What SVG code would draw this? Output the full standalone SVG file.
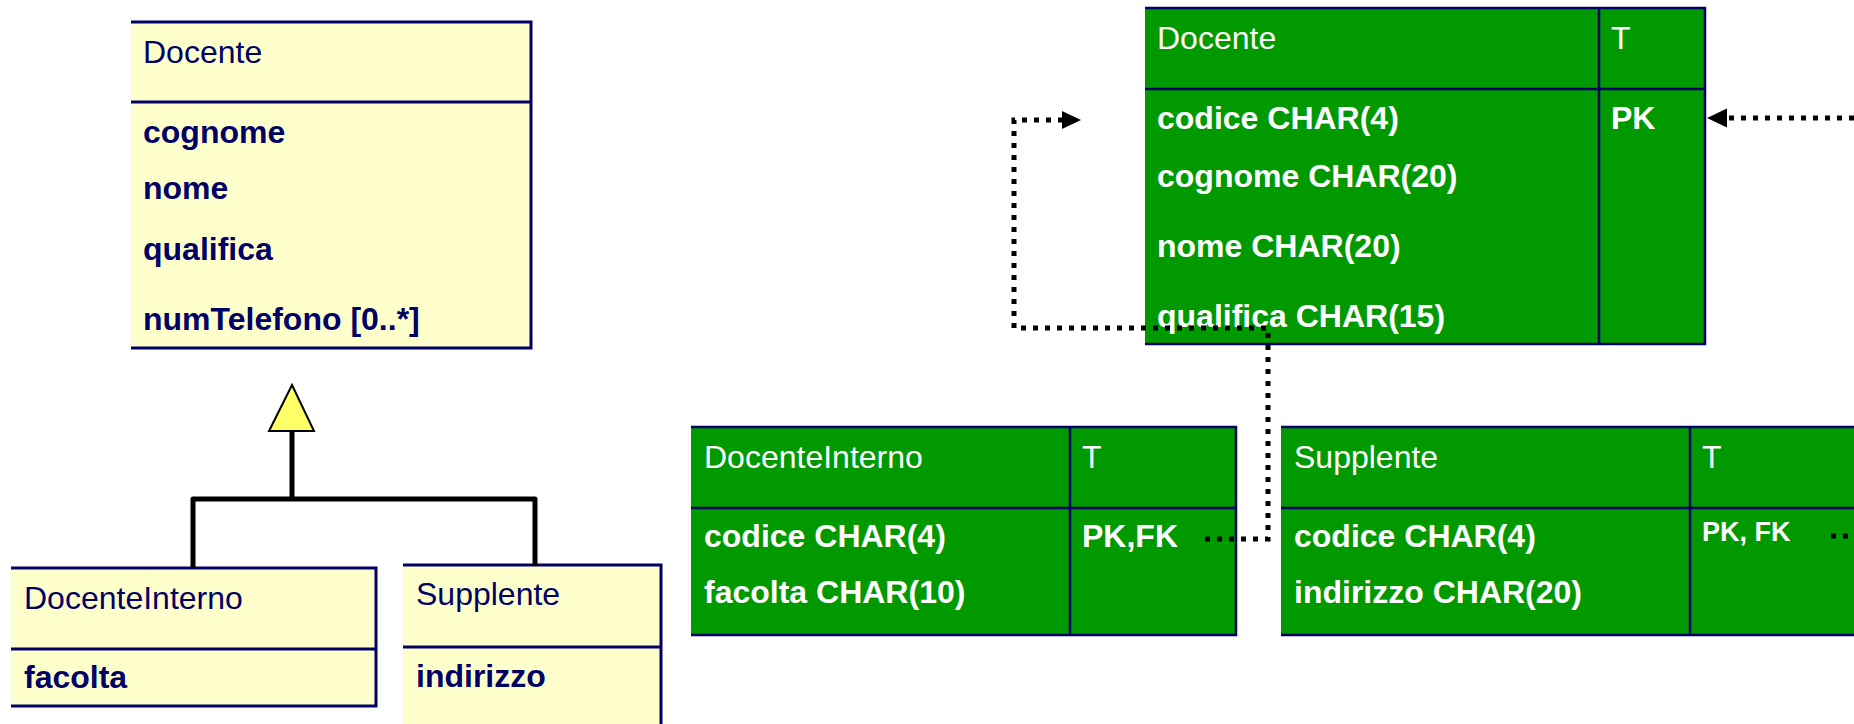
<svg xmlns="http://www.w3.org/2000/svg" width="1854" height="724" viewBox="0 0 1854 724">
<style>
.uml{fill:#FFFFCC}
.ub{stroke:#000066;stroke-width:3;fill:none}
.tbl{fill:#009900}
.tb{stroke:#000066;stroke-width:2.5;fill:none}
.ut{font-family:"Liberation Sans",Arial,sans-serif;font-size:32px;fill:#000066}
.b{font-weight:bold}
.tt{font-family:"Liberation Sans",Arial,sans-serif;font-size:32px;fill:#ffffff}
.gen{stroke:#000000;stroke-width:5;fill:none;stroke-linejoin:round}
.tri{fill:#FFFF66;stroke:#000000;stroke-width:2}
.dot{stroke:#000000;stroke-width:5;fill:none;stroke-dasharray:5 7}
.ah{fill:#000000}
</style>
<g id="uml-docente">
<rect class="uml" x="131" y="22" width="400" height="326"/>
<path class="ub" d="M131,22 H531 V348 H131 M131,102 H531"/>
<text class="ut" x="143" y="63">Docente</text>
<text class="ut b" x="143" y="143">cognome</text>
<text class="ut b" x="143" y="199">nome</text>
<text class="ut b" x="143" y="260">qualifica</text>
<text class="ut b" x="143" y="330">numTelefono [0..*]</text>
</g>
<g id="uml-docenteinterno">
<rect class="uml" x="11" y="568" width="365" height="138"/>
<path class="ub" d="M11,568 H376 V706 H11 M11,649 H376"/>
<text class="ut" x="24" y="609">DocenteInterno</text>
<text class="ut b" x="24" y="688">facolta</text>
</g>
<g id="uml-supplente">
<rect class="uml" x="403" y="565" width="258" height="170"/>
<path class="ub" d="M403,565 H661 V726 M403,647 H661"/>
<text class="ut" x="416" y="605">Supplente</text>
<text class="ut b" x="416" y="687">indirizzo</text>
</g>
<g id="tbl-docente">
<rect class="tbl" x="1145" y="8" width="560" height="336"/>
<path class="tb" d="M1145,8 H1705 V344 H1145 M1145,89 H1705 M1599,8 V344"/>
<text class="tt" x="1157" y="49">Docente</text>
<text class="tt" x="1611" y="49">T</text>
<text class="tt b" x="1157" y="129">codice CHAR(4)</text>
<text class="tt b" x="1611" y="129">PK</text>
<text class="tt b" x="1157" y="187">cognome CHAR(20)</text>
<text class="tt b" x="1157" y="257">nome CHAR(20)</text>
<text class="tt b" x="1157" y="327">qualifica CHAR(15)</text>
</g>
<g id="tbl-docenteinterno">
<rect class="tbl" x="691" y="427" width="545" height="208"/>
<path class="tb" d="M691,427 H1236 V635 H691 M691,508 H1236 M1070,427 V635"/>
<text class="tt" x="704" y="468">DocenteInterno</text>
<text class="tt" x="1082" y="468">T</text>
<text class="tt b" x="704" y="547">codice CHAR(4)</text>
<text class="tt b" x="1082" y="547">PK,FK</text>
<text class="tt b" x="704" y="603">facolta CHAR(10)</text>
</g>
<g id="tbl-supplente">
<rect class="tbl" x="1281" y="427" width="580" height="208"/>
<path class="tb" d="M1281,427 H1860 M1281,508 H1860 M1281,635 H1860 M1690,427 V635"/>
<text class="tt" x="1294" y="468">Supplente</text>
<text class="tt" x="1702" y="468">T</text>
<text class="tt b" x="1294" y="547">codice CHAR(4)</text>
<text class="tt b" x="1702" y="541" style="font-size:27px">PK, FK</text>
<text class="tt b" x="1294" y="603">indirizzo CHAR(20)</text>
</g>
<g id="connectors">
<path class="gen" d="M292,431 V499 M193,568 V499 H535 V566"/>
<polygon class="tri" points="292,385 314,431 269,431"/>
<path class="dot" d="M1205,539 H1268 V328 H1014 V120 H1062"/>
<polygon class="ah" points="1062,111 1081,120 1062,129"/>
<path class="dot" d="M1854,118 H1727"/>
<polygon class="ah" points="1727,108.5 1707,118 1727,127.5"/>
<path class="dot" d="M1831,536 H1856"/>
</g>
</svg>
